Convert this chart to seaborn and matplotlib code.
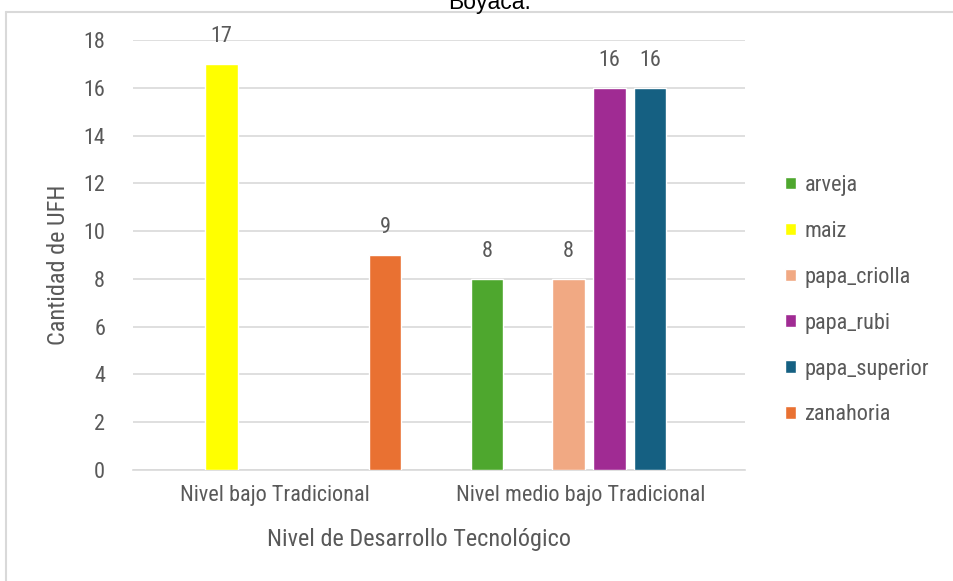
import matplotlib
matplotlib.use("Agg")
import matplotlib.pyplot as plt
import matplotlib.transforms as mtransforms
from matplotlib import font_manager
from matplotlib.lines import Line2D
import seaborn as sns
import pandas as pd

# ---- data ----
niveles = ["Nivel bajo Tradicional", "Nivel bajo Tradicional",
           "Nivel medio bajo Tradicional", "Nivel medio bajo Tradicional",
           "Nivel medio bajo Tradicional", "Nivel medio bajo Tradicional"]
cultivos = ["maiz", "zanahoria", "arveja", "papa_criolla", "papa_rubi", "papa_superior"]
cantidades = [17, 9, 8, 8, 16, 16]

categorias = ["Nivel bajo Tradicional", "Nivel medio bajo Tradicional"]
hue_order = ["arveja", "maiz", "papa_criolla", "papa_rubi", "papa_superior", "zanahoria"]
colores = ["#4EA72E", "#FFFF00", "#F1A983", "#A02B93", "#156082", "#E97132"]
yticks = [0, 2, 4, 6, 8, 10, 12, 14, 16, 18]

df = pd.DataFrame({"nivel": niveles, "cultivo": cultivos, "cantidad": cantidades})

sns.set_theme(style="white")
names = {f.name for f in font_manager.fontManager.ttflist}
main_font = "Liberation Sans"
for cand in ["Liberation Sans Narrow", "Roboto Condensed", "Open Sans Condensed",
             "DejaVu Sans Condensed", "Arial Narrow"]:
    if cand in names:
        main_font = cand
        break
narrow = main_font != "Liberation Sans"
plt.rcParams["font.family"] = [main_font, "DejaVu Sans"]

GRAY = "#595959"
GRID = "#D9D9D9"
FS = 16 if narrow else 14.5
FS_LAB = FS * 1.09

fig = plt.figure(figsize=(9.54, 5.81), dpi=100)
ax = fig.add_axes([133 / 954, 1 - 470 / 581, 612 / 954, 430 / 581])

sns.barplot(data=df, x="nivel", y="cantidad", hue="cultivo", order=categorias,
            hue_order=hue_order, palette=colores, saturation=1, width=0.8, gap=0.2,
            errorbar=None, ax=ax, zorder=3)

ax.set_ylim(0, 18)
ax.set_yticks(yticks)
ax.set_xlim(-0.49, 1.51)
ax.grid(axis="y", color=GRID, linewidth=1.2, zorder=0)
for s in ["left", "right", "top"]:
    ax.spines[s].set_visible(False)
ax.spines["bottom"].set_color(GRID)
ax.spines["bottom"].set_linewidth(1.2)
ax.tick_params(axis="both", length=0, colors=GRAY, labelsize=FS)
ax.tick_params(axis="y", pad=20)
ax.tick_params(axis="x", pad=11)

offset = mtransforms.ScaledTranslation(-8 / 100, 0, fig.dpi_scale_trans)
for lab in ax.get_xticklabels():
    lab.set_transform(lab.get_transform() + offset)

for c in ax.containers:
    ax.bar_label(c, padding=12, color=GRAY, fontsize=FS)

ax.set_xlabel("Nivel de Desarrollo Tecnológico", color=GRAY, fontsize=FS_LAB)
ax.set_ylabel("Cantidad de UFH", color=GRAY, fontsize=FS_LAB)
ax.xaxis.set_label_coords(0.467, -0.135)
ax.yaxis.set_label_coords(-0.103, 0.477)

handles, labels = ax.get_legend_handles_labels()
if ax.get_legend() is not None:
    ax.get_legend().remove()
leg = fig.legend(handles, labels, loc="upper left", bbox_to_anchor=(785 / 954, 1 - 175 / 581),
                 bbox_transform=fig.transFigure, frameon=False, fontsize=FS,
                 handlelength=0.5, handleheight=0.5, handletextpad=0.4,
                 labelspacing=1.12, borderpad=0, borderaxespad=0)
for t in leg.get_texts():
    t.set_color(GRAY)

# outer chart frame (partially visible)
fig.add_artist(Line2D([6.5 / 954, 6.5 / 954], [0, 1 - 12 / 581], transform=fig.transFigure,
                      color=GRID, linewidth=1.5))
fig.add_artist(Line2D([6.5 / 954, 1], [1 - 12 / 581, 1 - 12 / 581], transform=fig.transFigure,
                      color=GRID, linewidth=1.5))

# title, cut off at the top as in the reference
fig.text(0.513, 1 - 9 / 581, "Boyacá.", ha="center", va="baseline", fontsize=16.5,
         color="black", family=["Liberation Sans", "DejaVu Sans"])

fig.savefig("out.png", dpi=100)
